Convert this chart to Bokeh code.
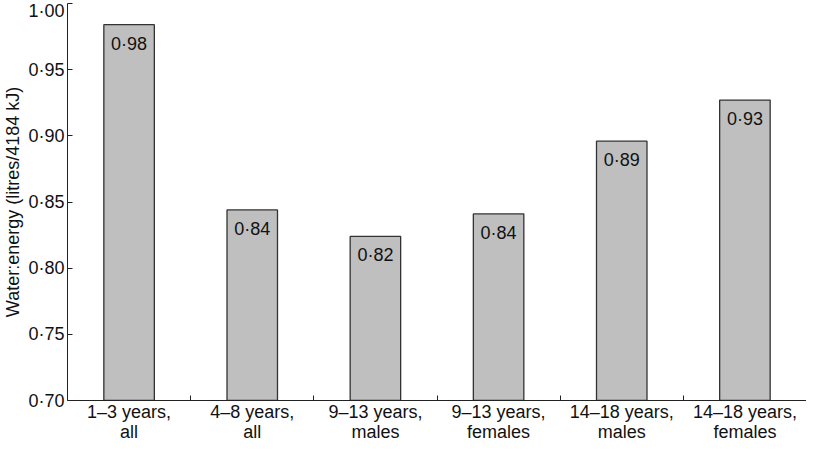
from bokeh.plotting import figure
from bokeh.models import ColumnDataSource, FixedTicker, CustomJSTickFormatter, Range1d
from bokeh.core.properties import value
from bokeh.embed import file_html
from bokeh.resources import INLINE

categories = ["1\u20133 years,\nall", "4\u20138 years,\nall", "9\u201313 years,\nmales",
              "9\u201313 years,\nfemales", "14\u201318 years,\nmales", "14\u201318 years,\nfemales"]
values = [0.984, 0.844, 0.824, 0.841, 0.896, 0.927]
value_labels = ["0\u00b798", "0\u00b784", "0\u00b782", "0\u00b784", "0\u00b789", "0\u00b793"]
y_ticks = [0.70, 0.75, 0.80, 0.85, 0.90, 0.95, 1.00]

FONT = "Liberation Sans"
x = [i + 0.5 for i in range(len(categories))]
src = ColumnDataSource(dict(x=x, top=values, lab=value_labels))

p = figure(width=806, height=444, output_backend="svg", toolbar_location=None,
           x_range=Range1d(0, len(categories)), y_range=Range1d(y_ticks[0], y_ticks[-1]),
           min_border_left=40, min_border_right=0, min_border_top=3, min_border_bottom=20)
p.outline_line_color = None
p.grid.grid_line_color = None
p.background_fill_color = "white"

p.vbar(x="x", top="top", bottom=y_ticks[0], width=0.41, source=src,
       fill_color="#bfbfbf", line_color="#333333", line_width=1.3)
p.text(x="x", y="top", text="lab", source=src, y_offset=19,
       text_align="center", text_baseline="middle",
       text_font=value(FONT), text_font_size="18px", text_color="#111111")

# x axis
xa = p.xaxis[0]
xa.ticker = FixedTicker(ticks=x, minor_ticks=list(range(1, len(categories) + 1)))
xa.formatter = CustomJSTickFormatter(args=dict(labels=categories),
                                     code="return labels[Math.floor(tick)];")
xa.major_tick_line_color = None
xa.major_tick_in = 0
xa.major_tick_out = 0
xa.minor_tick_in = 5
xa.minor_tick_out = 0
xa.minor_tick_line_color = "#222222"
xa.axis_line_color = "#222222"
xa.major_label_text_font = FONT
xa.major_label_text_font_size = "18px"
xa.major_label_text_color = "#111111"
xa.major_label_text_line_height = 1.0
xa.major_label_standoff = 1

# y axis
ya = p.yaxis[0]
ya.ticker = FixedTicker(ticks=y_ticks, minor_ticks=[])
ya.formatter = CustomJSTickFormatter(code="return tick.toFixed(2).replace('.', '\u00b7');")
ya.major_tick_in = 5
ya.major_tick_out = 0
ya.major_tick_line_color = "#222222"
ya.axis_line_color = "#222222"
ya.major_label_text_font = FONT
ya.major_label_text_font_size = "18px"
ya.major_label_text_color = "#111111"
ya.major_label_standoff = 3
ya.axis_label = "Water:energy (litres/4184 kJ)"
ya.axis_label_text_font = FONT
ya.axis_label_text_font_size = "18px"
ya.axis_label_text_font_style = "normal"
ya.axis_label_text_color = "#111111"
ya.axis_label_standoff = 2

open("out.html", "w").write(file_html(p, INLINE))
